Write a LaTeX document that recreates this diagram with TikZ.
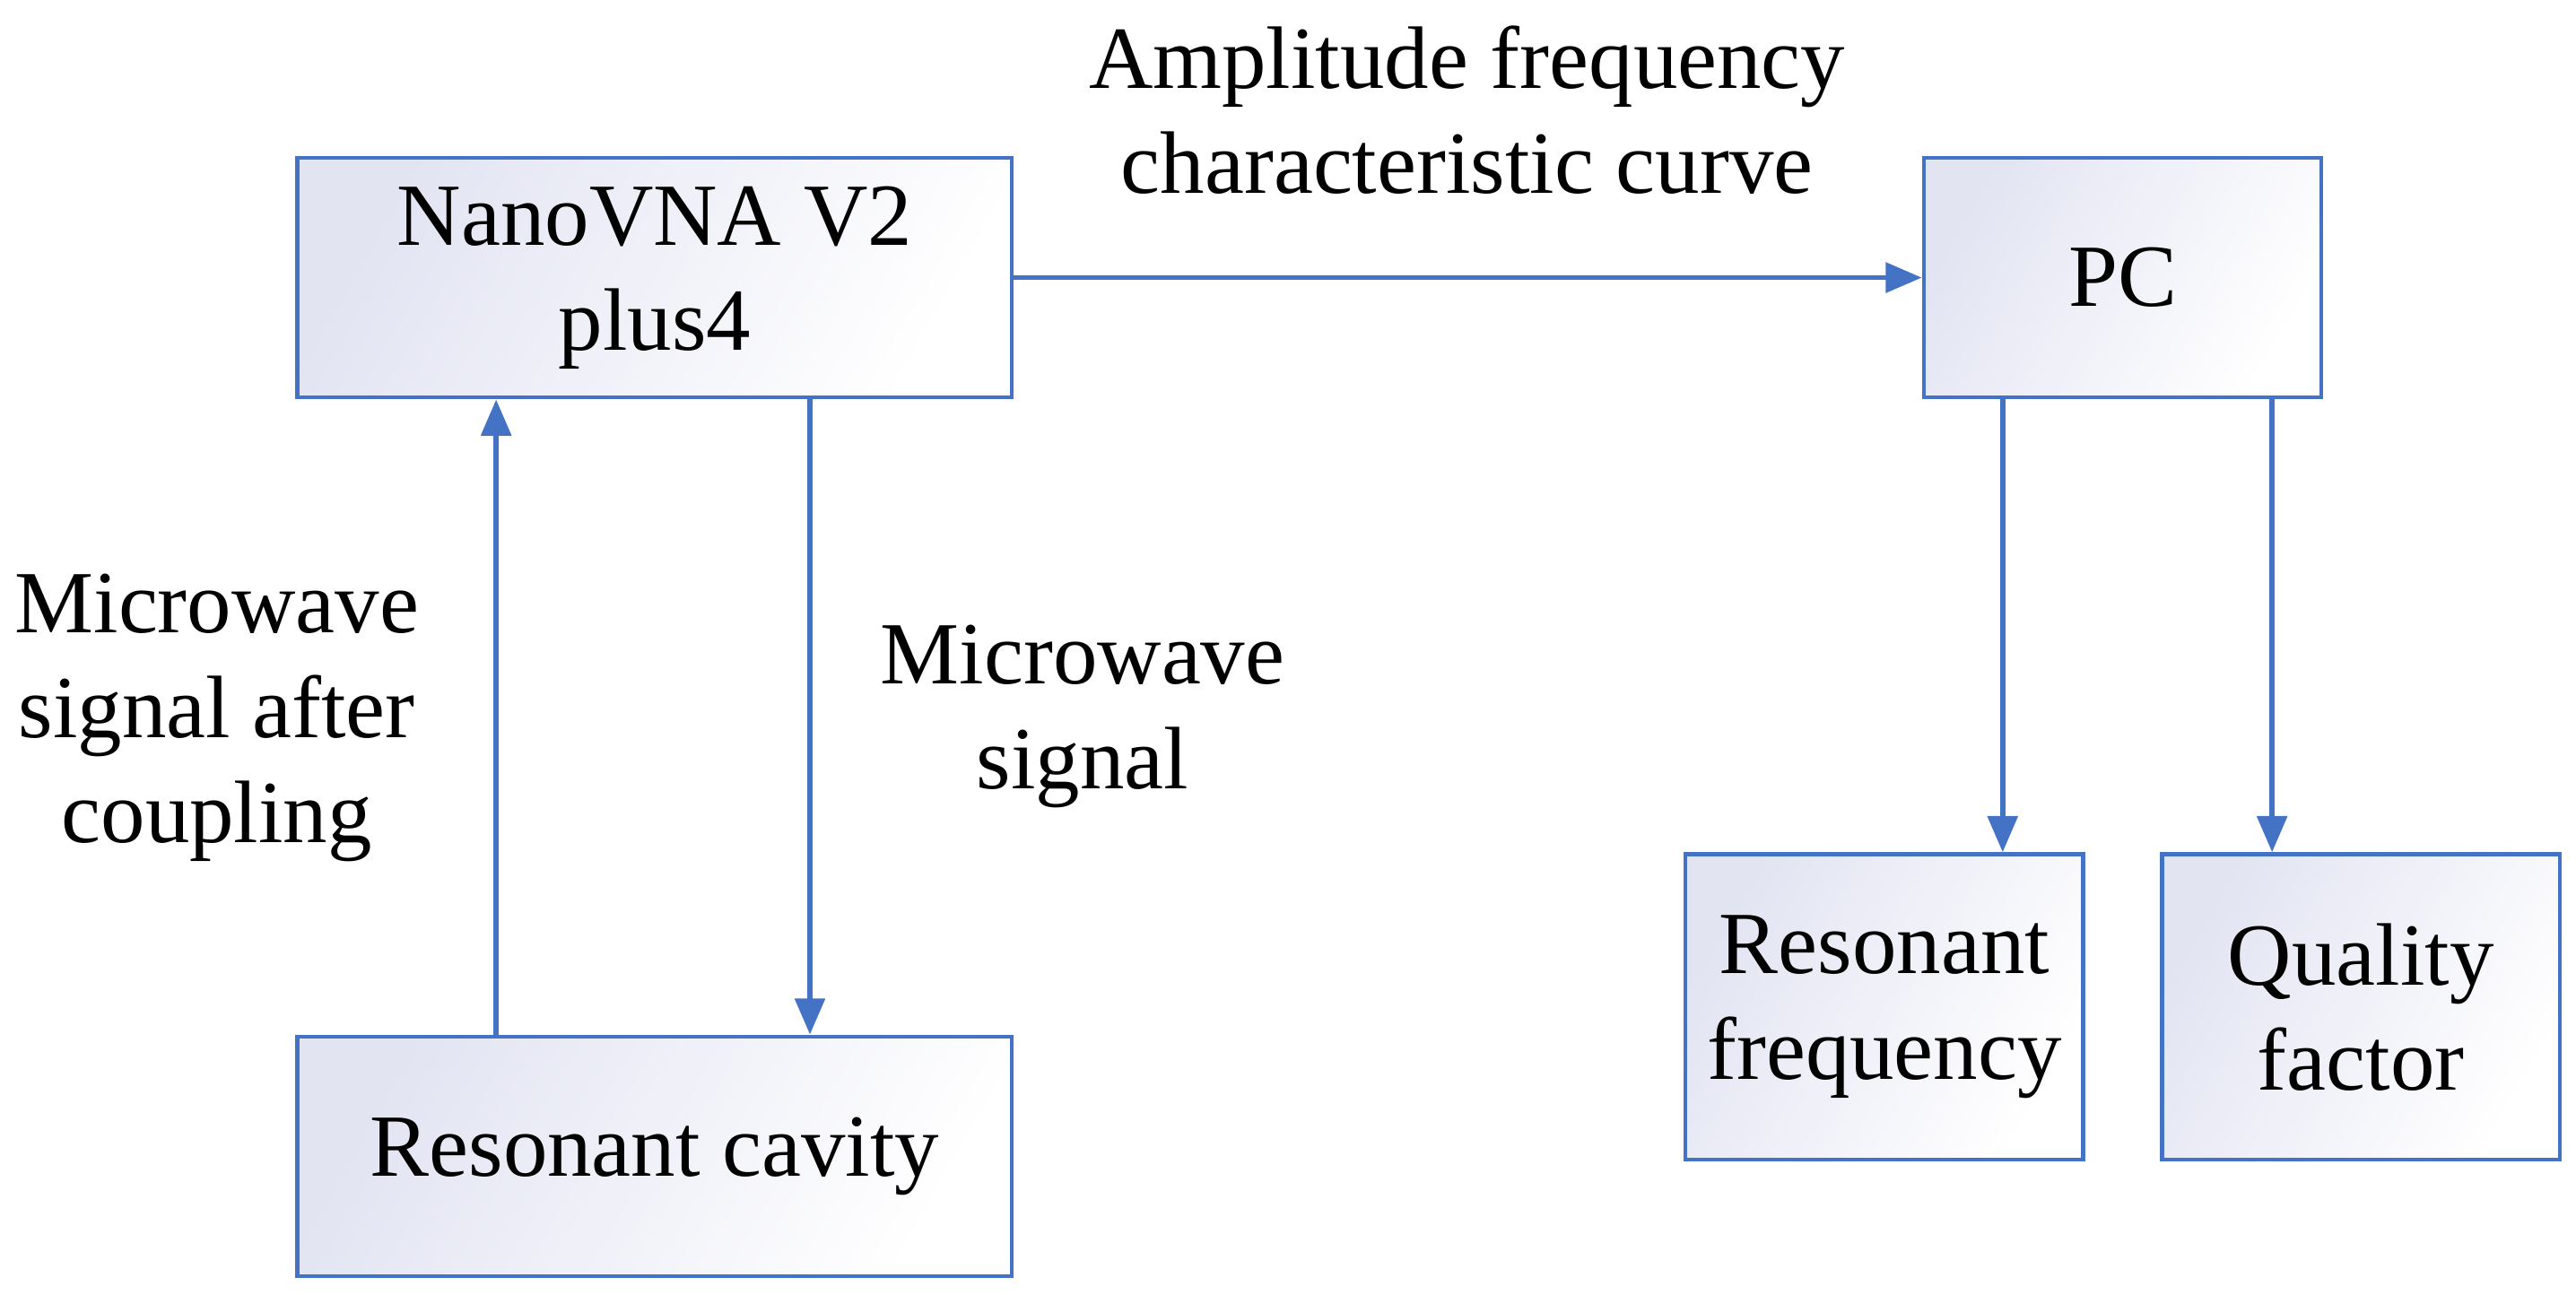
\documentclass[tikz,border=0pt]{standalone}
\usepackage{fontspec}
\setmainfont{Liberation Serif}
\usetikzlibrary{arrows.meta}
\definecolor{edge}{RGB}{68,114,196}
\definecolor{lav}{RGB}{226,228,242}
\begin{document}
\begin{tikzpicture}[x=0.5pt,y=-0.5pt,
  box/.style={draw=edge,line width=1.2pt,left color=lav,right color=white,shading angle=60,align=center,inner sep=0pt,font=\fontsize{27}{32}\selectfont},
  lab/.style={align=center,font=\fontsize{27}{32}\selectfont},
  arr/.style={draw=edge,line width=1.6pt,-{Triangle[length=11pt,width=9pt]}}]
\useasboundingbox (0,0) rectangle (1568,788);
\node[box,minimum width=217.5pt,minimum height=73pt] (nano) at (398.5,169) {NanoVNA V2\\plus4};
\node[box,minimum width=121pt,minimum height=73pt] (pc) at (1292,169) {PC};
\node[box,minimum width=217.5pt,minimum height=73pt] (cav) at (398.5,704) {Resonant cavity};
\node[box,minimum width=121pt,minimum height=93pt] (rf) at (1147,613) {Resonant\\frequency};
\node[box,minimum width=121pt,minimum height=93pt] (qf) at (1437,613) {Quality\\factor};
\draw[arr] (nano.east) -- (pc.west);
\draw[arr] (cav.north -| 302,0) -- (nano.south -| 302,0);
\draw[arr] (nano.south -| 493,0) -- (cav.north -| 493,0);
\draw[arr] (pc.south -| 1219,0) -- (rf.north -| 1219,0);
\draw[arr] (pc.south -| 1383,0) -- (qf.north -| 1383,0);
\node[lab] (l1) at (893,67) {Amplitude frequency\\characteristic curve};
\node[lab] (l2) at (132,437) {Microwave\\signal after\\coupling};
\node[lab] (l3) at (659,436) {Microwave\\signal};
\end{tikzpicture}
\end{document}
